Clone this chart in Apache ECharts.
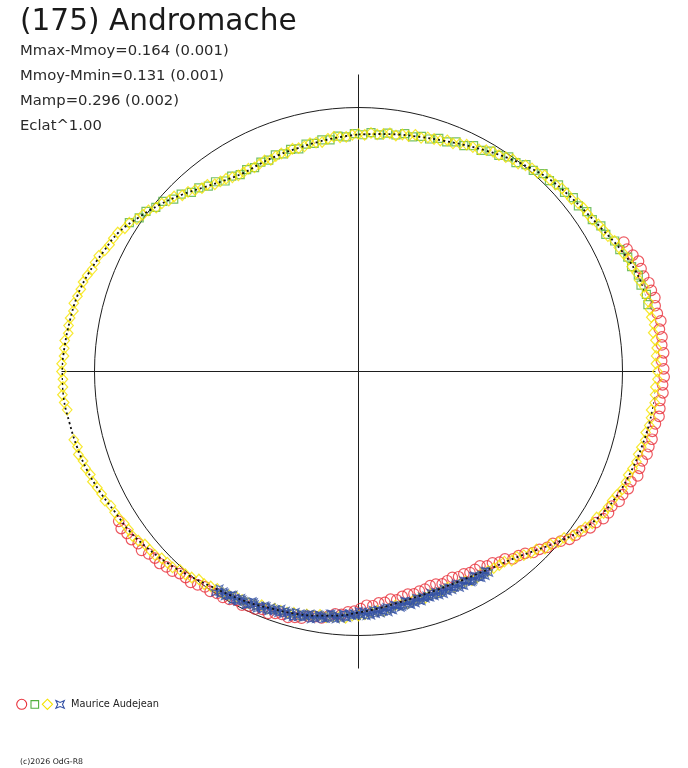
<!DOCTYPE html>
<html>
<head>
<meta charset="utf-8">
<script src="https://cdn.jsdelivr.net/npm/echarts@6/dist/echarts.min.js"></script>
<style>
html,body{margin:0;padding:0;background:#fff;}
#chart{width:688px;height:768px;}
</style>
</head>
<body>
<div id="chart"></div>
<script>
// Phase angle in degrees (clockwise from top), relative flux (1 = reference circle)
const modelPhase = [0,5,10,15,20,25,30,35,40,45,50,55,60,65,70,75,80,85,90,95,100,105,110,115,120,125,130,135,140,145,150,155,160,165,170,175,180,185,190,195,200,205,210,215,220,225,230,235,240,245,250,255,260,265,270,275,280,285,290,295,300,305,310,315,320,325,330,335,340,345,350,355,360];
const modelFlux = [.898,.903,.911,.919,.931,.947,.966,.987,1.008,1.027,1.039,1.052,1.070,1.095,1.116,1.127,1.130,1.130,1.130,1.127,1.119,1.110,1.100,1.088,1.070,1.040,.998,.956,.922,.902,.888,.881,.879,.881,.888,.900,.913,.928,.939,.949,.956,.968,.977,.989,1.006,1.025,1.042,1.057,1.065,1.080,1.094,1.104,1.112,1.122,1.123,1.117,1.110,1.103,1.088,1.068,1.051,1.017,.983,.947,.911,.884,.869,.871,.874,.877,.883,.890,.898];

const redPhase = [64,65.5,67,68.5,70,71.5,73,74.5,76,77.5,79,80.5,82,83.5,85,86.5,88,89.5,91,92.5,94,95.5,97,98.5,100,101.5,103,104.5,106,107.5,109,110.5,112,113.5,115,116.5,118,119.5,121,122.5,124,125.5,127,128.5,130,131.5,133,134.5,136,137.5,139,140.5,142,143.5,145,146.5,148,149.5,151,152.5,154,155.5,157,158.5,160,161.5,163,164.5,166,167.5,169,170.5,172,173.5,175,176.5,178,179.5,181,182.5,184,185.5,187,188.5,190,191.5,193,194.5,196,197.5,199,200.5,202,203.5,205,206.5,208,209.5,211,212.5,214,215.5,217,218.5,220,221.5,223,224.5,226,227.5,229,230.5,232,233.5,235,236.5,238];
const redFlux = [1.118,1.118,1.129,1.140,1.139,1.139,1.150,1.151,1.157,1.151,
1.153,1.161,1.151,1.157,1.153,1.158,1.149,1.156,1.158,1.153,
1.156,1.147,1.150,1.151,1.142,1.136,1.141,1.136,1.137,1.127,
1.126,1.129,1.113,1.114,1.104,1.103,1.087,1.088,1.082,1.066,
1.059,1.040,1.030,1.021,1.000,.983,.977,.961,.953,.934,
.924,.920,.901,.898,.885,.883,.868,.870,.871,.864,
.865,.857,.861,.865,.857,.855,.862,.863,.868,.864,
.868,.877,.871,.880,.880,.889,.886,.898,.908,.911,
.922,.922,.933,.944,.943,.946,.959,.962,.969,.965,
.969,.978,.972,.981,.981,.989,.982,.992,.998,.997,
1.005,1.002,1.012,1.021,1.019,1.022,1.034,1.038,1.047,1.046,
1.053,1.065,1.059,1.070,1.070,1.078,1.071];

const greenPhase = [303,305,307,309,311,313,315,317,319,321,323,325,327,329,331,333,335,337,339,341,343,345,347,349,351,353,355,357,359,1,3,5,7,9,11,13,15,17,19,21,23,25,27,29,31,33,35,37,39,41,43,45,47,49,51,53,55,57,59,61,63,65,67,69,71,73,75,77];
const greenFlux = [1.035,1.014,1.008,.988,.982,.957,.950,.928,.922,.904,
.900,.881,.882,.870,.874,.867,.875,.870,.879,.872,
.880,.873,.884,.880,.888,.884,.895,.890,.901,
.897,.906,.900,.910,.907,.918,.912,.922,.921,.934,
.932,.945,.944,.960,.958,.974,.976,.992,.991,1.008,
1.009,1.025,1.023,1.036,1.034,1.047,1.043,1.056,1.056,1.071,
1.071,1.089,1.092,1.108,1.108,1.121,1.119,1.129,1.125];

const yellowPhase = [0,1.5,3,4.5,6,7.5,9,10.5,12,13.5,15,16.5,18,19.5,21,22.5,24,25.5,27,28.5,30,31.5,33,34.5,36,37.5,39,40.5,42,43.5,45,46.5,48,49.5,51,52.5,54,55.5,57,58.5,60,61.5,63,64.5,66,67.5,69,70.5,72,73.5,75,76.5,78,79.5,81,82.5,84,85.5,87,88.5,90,91.5,93,94.5,96,97.5,99,100.5,102,103.5,105,106.5,108,109.5,111,112.5,114,115.5,117,118.5,120,121.5,123,124.5,126,127.5,129,130.5,132,133.5,135,136.5,138,139.5,141,142.5,144,145.5,147,148.5,150,151.5,153,154.5,156,157.5,159,160.5,162,163.5,165,166.5,168,169.5,171,172.5,174,175.5,177,178.5,180,181.5,183,184.5,186,187.5,189,190.5,192,193.5,195,196.5,198,199.5,201,202.5,204,205.5,207,208.5,210,211.5,213,214.5,216,217.5,219,220.5,222,223.5,225,226.5,228,229.5,231,232.5,234,235.5,237,238.5,240,241.5,243,244.5,246,247.5,249,250.5,252,253.5,255,256.5,262.5,264,265.5,267,268.5,270,271.5,273,274.5,276,277.5,279,280.5,282,283.5,285,286.5,288,289.5,291,292.5,294,295.5,297,298.5,300,301.5,303,304.5,306,307.5,309,310.5,312,313.5,315,316.5,318,319.5,321,322.5,324,325.5,327,328.5,330,331.5,333,334.5,336,337.5,339,340.5,342,343.5,345,346.5,348,349.5,351,352.5,354,355.5,357,358.5];
const yellowFlux = [.900,.897,.905,.901,.905,.910,.905,.913,.912,.922,
.916,.925,.926,.928,.938,.935,.945,.952,.954,.957,
.968,.976,.977,.985,.994,.993,1.005,1.012,1.013,1.025,
1.026,1.029,1.037,1.038,1.038,1.048,1.054,1.053,1.056,1.066,
1.072,1.075,1.089,1.092,1.099,1.109,1.108,1.118,1.118,1.129,
1.124,1.130,1.129,1.128,1.134,1.126,1.131,1.133,1.129,1.127,
1.132,1.133,1.126,1.127,1.128,1.118,1.122,1.120,1.112,1.117,
1.109,1.105,1.107,1.101,1.094,1.096,1.095,1.085,1.078,1.076,
1.072,1.058,1.056,1.042,1.032,1.022,1.002,.995,.979,.974,
.953,.948,.936,.923,.922,.908,.907,.904,.901,.895,
.900,.900,.892,.892,.894,.885,.890,.891,.887,.894,
.890,.891,.898,.897,.896,.906,.913,.910,.912,.920,
.925,.925,.934,.932,.934,.939,.933,.941,.941,.951,
.946,.953,.953,.953,.962,.958,.967,.972,.971,.971,
.979,.985,.982,.988,.995,.993,1.004,1.010,1.011,1.023,
1.024,1.028,1.038,1.040,1.041,1.052,1.059,1.057,1.058,1.064,
1.067,1.067,1.078,1.078,1.083,1.091,1.088,1.097,1.097,1.107,
1.102,1.109,
1.113,1.121,1.125,1.121,1.120,1.125,1.125,1.117,
1.118,1.119,1.109,1.112,1.111,1.104,1.109,1.102,1.097,1.097,
1.090,1.080,1.080,1.077,1.065,1.058,1.057,1.053,1.038,1.035,
1.019,1.010,1.003,.986,.980,.967,.963,.944,.938,.925,
.913,.910,.894,.890,.886,.877,.871,.871,.874,.868,
.871,.875,.868,.874,.876,.872,.880,.876,.877,.884,
.882,.880,.889,.894,.890,.890,.897];

const bluePhase = [147,147.75,148.5,149.25,150,150.75,151.5,152.25,153,153.75,154.5,155.25,156,156.75,157.5,158.25,159,159.75,160.5,161.25,162,162.75,163.5,164.25,165,165.75,166.5,167.25,168,168.75,169.5,170.25,171,171.75,172.5,173.25,174,174.75,175.5,176.25,177,177.75,178.5,179.25,180,180.75,181.5,182.25,183,183.75,184.5,185.25,186,186.75,187.5,188.25,189,189.75,190.5,191.25,192,192.75,193.5,194.25,195,195.75,196.5,197.25,198,198.75,199.5,200.25,201,201.75,202.5,203.25,204,204.75,205.5,206.25,207,207.75,208.5,209.25,210,210.75,211.5,212.25,213];
const blueFlux = [.909,.893,.903,.911,.896,.887,.906,.897,.890,.905,
.892,.883,.897,.901,.885,.893,.903,.886,.890,.899,
.881,.895,.897,.885,.899,.885,.897,.907,.893,.886,
.907,.901,.896,.914,.904,.898,.914,.920,.905,.914,
.926,.910,.915,.924,.907,.923,.926,.916,.932,.919,
.932,.943,.929,.923,.945,.938,.934,.952,.941,.935,
.950,.957,.942,.952,.964,.948,.953,.962,.945,.960,
.963,.952,.967,.954,.967,.978,.965,.958,.980,.973,
.969,.986,.975,.969,.984,.991,.977,.986,.999];
const bluePhase2 = [147.375,148.125,148.875,149.625,150.375,151.125,151.875,152.625,153.375,154.125,154.875,155.625,156.375,157.125,157.875,158.625,159.375,160.125,160.875,161.625,162.375,163.125,163.875,164.625,165.375,166.125,166.875,167.625,168.375,169.125,169.875,170.625,171.375,172.125,172.875,173.625,174.375,175.125,175.875,176.625,177.375,178.125,178.875,179.625,180.375,181.125,181.875,182.625,183.375,184.125,184.875,185.625,186.375,187.125,187.875,188.625,189.375,190.125,190.875,191.625,192.375,193.125,193.875,194.625,195.375,196.125,196.875,197.625,198.375,199.125,199.875,200.625,201.375,202.125,202.875,203.625,204.375,205.125,205.875,206.625,207.375,208.125,208.875,209.625,210.375,211.125,211.875,212.625];
const blueFlux2 = [.896,.912,.898,.905,.889,.902,.906,.894,.886,.900,
.905,.887,.893,.888,.900,.882,.894,.902,.883,.892,
.899,.887,.892,.903,.887,.905,.893,.902,.887,.903,
.909,.900,.894,.911,.919,.903,.912,.908,.921,.904,
.918,.927,.909,.918,.926,.916,.922,.935,.920,.939,
.928,.937,.923,.940,.946,.937,.932,.948,.956,.939,
.948,.944,.958,.941,.956,.965,.947,.956,.964,.953,
.958,.971,.955,.974,.963,.973,.959,.975,.982,.972,
.966,.983,.990,.973,.982,.979,.993,.976];

const titleText = '(175) Andromache';
const infoLines = ['Mmax-Mmoy=0.164 (0.001)', 'Mmoy-Mmin=0.131 (0.001)', 'Mamp=0.296 (0.002)', 'Eclat^1.00'];
const observer = 'Maurice Audejean';
const copyright = '(c)2026 OdG-R8';

const RED = '#e8303a', GREEN = '#52b040', YELLOW = '#f5e400', BLUE = '#3552a5';
const STAR = 'path://M0,0 L5,2.2 L10,0 L7.8,5 L10,10 L5,7.8 L0,10 L2.2,5 Z';

function pairs(flux, phase) { return flux.map((f, i) => [f, phase[i]]); }

const CX = 358.5, CY = 371.5;
const chart = echarts.init(document.getElementById('chart'), null, {renderer: 'canvas'});
const FONT = '"DejaVu Sans", "Liberation Sans", sans-serif';

const graphics = [
  {type: 'text', left: 20, top: 7, style: {text: titleText, font: '29.6px ' + FONT, fill: '#1a1a1a'}}
];
infoLines.forEach((t, i) => {
  graphics.push({type: 'text', left: 20, top: 44 + i * 25, style: {text: t, font: '14.8px ' + FONT, fill: '#2a2a2a'}});
});
graphics.push(
  {type: 'circle', shape: {cx: 21.7, cy: 704.3, r: 5}, style: {fill: 'none', stroke: RED, lineWidth: 1.1}},
  {type: 'rect', shape: {x: 31, y: 700.6, width: 7.6, height: 7.6}, style: {fill: 'none', stroke: GREEN, lineWidth: 1.1}},
  {type: 'polygon', shape: {points: [[47.4,699.2],[52.5,704.3],[47.4,709.4],[42.3,704.3]]}, style: {fill: 'none', stroke: YELLOW, lineWidth: 1.1}},
  {type: 'polygon', shape: {points: [[55.9,700.6],[60.1,702.4],[64.3,700.6],[62.5,704.4],[64.3,708.3],[60.1,706.5],[55.9,708.3],[57.7,704.4]]}, style: {fill: 'none', stroke: BLUE, lineWidth: 1.1}},
  {type: 'text', left: 71, top: 699, style: {text: observer, font: '9.8px ' + FONT, fill: '#222'}},
  {type: 'text', left: 20, top: 758, style: {text: copyright, font: '7.8px ' + FONT, fill: '#222'}}
);

const hiddenRadius = {axisLine: {show: false}, axisTick: {show: false}, axisLabel: {show: false}, splitLine: {show: false}};

chart.setOption({
  animation: false,
  backgroundColor: '#ffffff',
  polar: [
    {center: [CX, CY], radius: 297},
    {center: [CX, CY], radius: 264}
  ],
  angleAxis: [
    {polarIndex: 0, type: 'value', min: 0, max: 360, interval: 90, startAngle: 90, clockwise: true,
     axisLine: {show: false}, axisTick: {show: false}, axisLabel: {show: false},
     splitLine: {show: true, lineStyle: {color: '#1e1e1e', width: 1}}},
    {polarIndex: 1, type: 'value', min: 0, max: 360, interval: 90, startAngle: 90, clockwise: true,
     axisLine: {show: true, lineStyle: {color: '#1e1e1e', width: 1}}, axisTick: {show: false}, axisLabel: {show: false},
     splitLine: {show: false}}
  ],
  radiusAxis: [
    Object.assign({polarIndex: 0, type: 'value', min: 0, max: 1.125}, hiddenRadius),
    Object.assign({polarIndex: 1, type: 'value', min: 0, max: 1}, hiddenRadius)
  ],
  graphic: graphics,
  series: [
    {type: 'scatter', coordinateSystem: 'polar', polarIndex: 0, clip: false, silent: true,
     symbol: 'circle', symbolSize: 10.5, data: pairs(redFlux, redPhase),
     itemStyle: {color: 'rgba(0,0,0,0)', borderColor: RED, borderWidth: 1.2}},
    {type: 'scatter', coordinateSystem: 'polar', polarIndex: 0, clip: false, silent: true,
     symbol: 'rect', symbolSize: 8, data: pairs(greenFlux, greenPhase),
     itemStyle: {color: 'rgba(0,0,0,0)', borderColor: GREEN, borderWidth: 1.2}},
    {type: 'scatter', coordinateSystem: 'polar', polarIndex: 0, clip: false, silent: true,
     symbol: 'diamond', symbolSize: [9.5, 10.5], data: pairs(yellowFlux, yellowPhase),
     itemStyle: {color: 'rgba(0,0,0,0)', borderColor: YELLOW, borderWidth: 1.2}},
    {type: 'scatter', coordinateSystem: 'polar', polarIndex: 0, clip: false, silent: true,
     symbol: STAR, symbolSize: 6.5, data: pairs(blueFlux, bluePhase).concat(pairs(blueFlux2, bluePhase2)),
     itemStyle: {color: 'rgba(0,0,0,0)', borderColor: BLUE, borderWidth: 1.2}},
    {type: 'line', coordinateSystem: 'polar', polarIndex: 0, clip: false, silent: true,
     showSymbol: false, symbol: 'none', smooth: 0.4, data: pairs(modelFlux, modelPhase),
     lineStyle: {color: '#111', width: 1.8, type: [2, 3]}}
  ]
});
</script>
</body>
</html>
